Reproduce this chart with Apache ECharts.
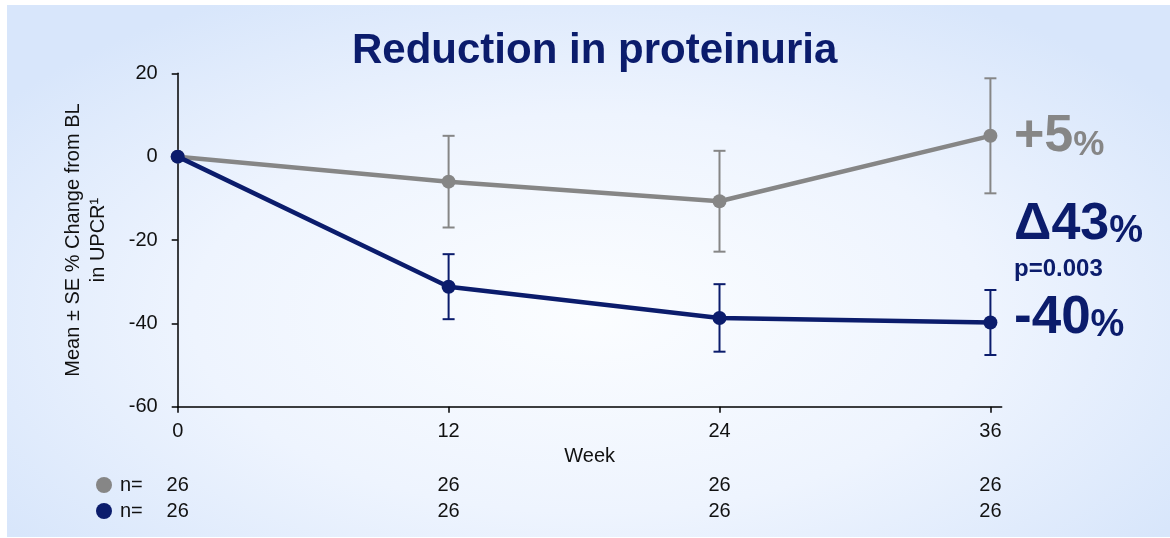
<!DOCTYPE html>
<html>
<head>
<meta charset="utf-8">
<script src="https://cdn.jsdelivr.net/npm/echarts@6/dist/echarts.min.js"></script>
<style>
html, body { margin: 0; padding: 0; background: #fff; }
#panel {
    position: absolute; left: 7px; top: 5px; width: 1163px; height: 532px;
    background: radial-gradient(ellipse 62% 68% at 50% 58%, #fbfdff 0%, #eef4fe 55%, #d8e6fb 100%);
}
#main { position: absolute; left: 0; top: 0; width: 1170px; height: 538px; }
</style>
</head>
<body>
<div id="panel"></div>
<div id="main"></div>
<script>
// data
var weeks = [0, 12, 24, 36];
var placeboMean = [0, -6, -10.7, 5];
var placeboSE = [0, 11, 12.1, 13.8];
var treatMean = [0, -31.2, -38.7, -39.8];
var treatSE = [0, 7.8, 8.1, 7.8];
var placeboN = [26, 26, 26, 26];
var treatN = [26, 26, 26, 26];

var GRAY = '#868686';
var NAVY = '#0b1c6c';
var FONT = "'Liberation Sans', Arial, sans-serif";

var myChart = echarts.init(document.getElementById('main'));

function toPoints(mean) {
    return weeks.map(function (w, i) { return [w, mean[i]]; });
}

// mean +- SE whiskers
function errorBars(name, mean, se, color) {
    var data = [];
    weeks.forEach(function (w, i) {
        if (se[i] > 0) data.push([w, mean[i] - se[i], mean[i] + se[i]]);
    });
    return {
        type: 'custom',
        name: name,
        z: 1,
        clip: false,
        data: data,
        renderItem: function (params, api) {
            var lo = api.coord([api.value(0), api.value(1)]);
            var hi = api.coord([api.value(0), api.value(2)]);
            var hw = 6;
            var st = { stroke: color, lineWidth: 2 };
            return {
                type: 'group',
                children: [
                    { type: 'line', shape: { x1: hi[0], y1: hi[1], x2: lo[0], y2: lo[1] }, style: st },
                    { type: 'line', shape: { x1: hi[0] - hw, y1: hi[1], x2: hi[0] + hw, y2: hi[1] }, style: st },
                    { type: 'line', shape: { x1: lo[0] - hw, y1: lo[1], x2: lo[0] + hw, y2: lo[1] }, style: st }
                ]
            };
        }
    };
}

function nAxis(offset, values) {
    return {
        type: 'value', gridIndex: 0, position: 'bottom', offset: offset,
        min: 0, max: 36.5,
        axisLine: { show: false }, axisTick: { show: false }, splitLine: { show: false },
        axisLabel: {
            customValues: weeks, margin: 0, fontSize: 20, fontFamily: FONT, color: '#111',
            formatter: function (v) { return values[weeks.indexOf(v)]; }
        }
    };
}

// big number with smaller % sign, baselines lined up
function bigPct(num, pct, color, big, small) {
    return {
        text: '{a|' + num + '}{b|' + pct + '}',
        rich: {
            a: { fontSize: big, fontWeight: 'bold', fontFamily: FONT, fill: color, color: color,
                 lineHeight: big, verticalAlign: 'bottom' },
            b: { fontSize: small, fontWeight: 'bold', fontFamily: FONT, fill: color, color: color,
                 lineHeight: Math.round(0.3 * big + 0.7 * small), verticalAlign: 'bottom' }
        },
        fill: color,
        verticalAlign: 'top'
    };
}

myChart.setOption({
    animation: false,
    title: {
        text: 'Reduction in proteinuria',
        left: 352, top: 30, padding: 0,
        textStyle: { fontSize: 42, fontWeight: 'bold', fontFamily: FONT, color: NAVY }
    },
    legend: {
        data: ['Placebo', 'Treatment'],
        orient: 'vertical', left: 91, top: 470,
        itemWidth: 16, itemHeight: 16, itemGap: 6,
        icon: 'circle', selectedMode: false,
        formatter: function () { return 'n='; },
        textStyle: { fontSize: 20, fontFamily: FONT, color: '#111', padding: [0, 0, 0, 3] }
    },
    grid: { left: 177.7, right: 168.3, top: 73.3, bottom: 131.3 },
    xAxis: [{
        type: 'value', min: 0, max: 36.5,
        name: 'Week', nameLocation: 'middle', nameGap: 35,
        nameTextStyle: { fontSize: 20, fontFamily: FONT, color: '#111' },
        axisLine: { onZero: false, lineStyle: { color: '#000', width: 1.5 } },
        axisTick: { customValues: weeks, length: 6, lineStyle: { color: '#000', width: 1.5 } },
        axisLabel: { customValues: weeks, margin: 15, fontSize: 20, fontFamily: FONT, color: '#111' },
        splitLine: { show: false }
    }, nAxis(69, placeboN), nAxis(95, treatN)],
    yAxis: {
        type: 'value', min: -60, max: 20, interval: 20,
        name: 'Mean \u00b1 SE % Change from BL\nin UPCR\u00b9',
        nameLocation: 'middle', nameRotate: 90, nameGap: 67,
        nameTextStyle: { fontSize: 20, fontFamily: FONT, color: '#111', lineHeight: 25 },
        axisLine: { onZero: false, lineStyle: { color: '#000', width: 1.5 } },
        axisTick: { length: 6, lineStyle: { color: '#000', width: 1.5 } },
        axisLabel: { margin: 20, fontSize: 20, fontFamily: FONT, color: '#111' },
        splitLine: { show: false }
    },
    graphic: [
        { type: 'text', left: 1014, top: 155 - 0.85 * 52, style: bigPct('+5', '%', GRAY, 52, 35) },
        { type: 'text', left: 1014, top: 243 - 0.85 * 52, style: bigPct('\u039443', '%', NAVY, 52, 38) },
        { type: 'text', left: 1014, top: 278 - 0.85 * 24,
          style: { text: 'p=0.003', fontSize: 24, fontWeight: 'bold', fontFamily: FONT, fill: NAVY, lineHeight: 24 } },
        { type: 'text', left: 1014, top: 337 - 0.85 * 53, style: bigPct('-40', '%', NAVY, 53, 38) }
    ],
    series: [
        errorBars('Placebo SE', placeboMean, placeboSE, GRAY),
        errorBars('Treatment SE', treatMean, treatSE, NAVY),
        {
            name: 'Placebo', type: 'line', z: 2,
            data: toPoints(placeboMean),
            symbol: 'circle', symbolSize: 14,
            itemStyle: { color: GRAY },
            lineStyle: { color: GRAY, width: 4.5 }
        },
        {
            name: 'Treatment', type: 'line', z: 3,
            data: toPoints(treatMean),
            symbol: 'circle', symbolSize: 14,
            itemStyle: { color: NAVY },
            lineStyle: { color: NAVY, width: 4.5 }
        }
    ]
});
</script>
</body>
</html>
